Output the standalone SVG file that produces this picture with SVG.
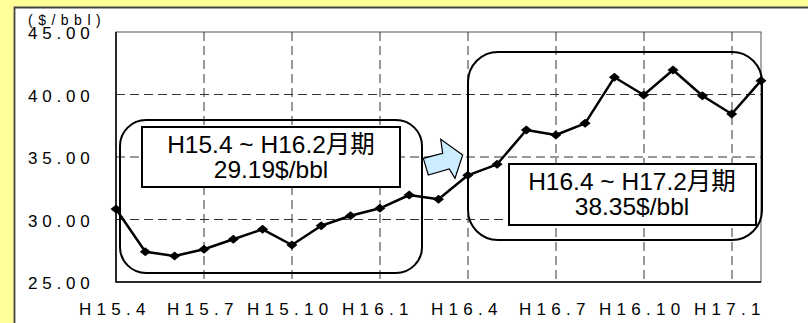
<svg xmlns="http://www.w3.org/2000/svg" width="808" height="323" viewBox="0 0 808 323">
  <defs>
    <style>
      .grid { stroke: #333; stroke-width: 1; stroke-dasharray: 9 5; fill: none; }
      .axis { font-family: "Liberation Sans", Arial, sans-serif; font-size: 17px; fill: #000; }
      .ylab { letter-spacing: 4.8px; }
      .xlab { letter-spacing: 5.3px; }
      .round { fill: none; stroke: #000; stroke-width: 2; }
      .box { fill: #fff; stroke: #000; stroke-width: 2; }
      .boxtxt { font-family: "Liberation Sans", "Noto Sans CJK JP", Arial, sans-serif; font-size: 24.5px; fill: #000; text-anchor: middle; }
      .series { fill: none; stroke: #000; stroke-width: 2.5; stroke-linejoin: round; }
    </style>
    <marker id="dia" viewBox="-6 -5 12 10" markerWidth="12" markerHeight="10" markerUnits="userSpaceOnUse" refX="0" refY="0" overflow="visible">
      <path d="M-5.5,0 L0,-4.5 L5.5,0 L0,4.5 Z" fill="#000"/>
    </marker>
  </defs>

  <!-- background -->
  <rect x="0" y="0" width="808" height="323" fill="#FFFF99"/>
  <rect x="14" y="7" width="794" height="316" fill="#fff"/>
  <path d="M14.5,323 L14.5,7.5 L808,7.5" fill="none" stroke="#444" stroke-width="1.8"/>

  <g id="plot-area">
    <rect x="116" y="32" width="645" height="250" fill="#fff" stroke="#555" stroke-width="1"/>
    <g id="gridlines">
      <line class="grid" x1="116" y1="94.5" x2="761" y2="94.5"/>
      <line class="grid" x1="116" y1="157" x2="761" y2="157"/>
      <line class="grid" x1="116" y1="219.5" x2="761" y2="219.5"/>
      <line class="grid" x1="204" y1="32" x2="204" y2="282"/>
      <line class="grid" x1="292" y1="32" x2="292" y2="282"/>
      <line class="grid" x1="380" y1="32" x2="380" y2="282"/>
      <line class="grid" x1="468" y1="32" x2="468" y2="282"/>
      <line class="grid" x1="556" y1="32" x2="556" y2="282"/>
      <line class="grid" x1="644" y1="32" x2="644" y2="282"/>
      <line class="grid" x1="732" y1="32" x2="732" y2="282"/>
    </g>
    <path d="M116,32 L116,282 L761,282" fill="none" stroke="#000" stroke-width="1.5"/>
  </g>

  <g id="y-axis-labels" class="axis ylab">
    <text x="28" y="25" font-size="14px" style="letter-spacing:5.5px">($/bbl)</text>
    <text x="28" y="38.5">45.00</text>
    <text x="28" y="101.5">40.00</text>
    <text x="28" y="164">35.00</text>
    <text x="28" y="226.5">30.00</text>
    <text x="28" y="289">25.00</text>
  </g>

  <g id="x-axis-labels" class="axis xlab">
    <text x="79" y="315">H15.4</text>
    <text x="167" y="315">H15.7</text>
    <text x="247" y="315">H15.10</text>
    <text x="342" y="315">H16.1</text>
    <text x="431" y="315">H16.4</text>
    <text x="519" y="315">H16.7</text>
    <text x="599" y="315">H16.10</text>
    <text x="694" y="315">H17.1</text>
  </g>

  <g id="period1-frame">
    <rect class="round" x="120" y="120" width="302" height="153" rx="26" ry="26"/>
  </g>
  <g id="period2-frame">
    <rect class="round" x="468" y="52" width="294" height="188" rx="30" ry="30"/>
  </g>

  <g id="period1-label">
    <rect class="box" x="142" y="127" width="258" height="60"/>
    <text class="boxtxt" x="271" y="153">H15.4 ~ H16.2月期</text>
    <text class="boxtxt" x="271" y="178">29.19$/bbl</text>
  </g>

  <g id="period2-label">
    <rect class="box" x="509" y="164" width="247" height="61"/>
    <text class="boxtxt" x="632" y="190">H16.4 ~ H17.2月期</text>
    <text class="boxtxt" x="632" y="215">38.35$/bbl</text>
  </g>

  <g id="arrow">
    <polygon points="428.3,175 423.3,158.3 442.7,153.3 440.7,139.3 462.7,155 455,178.3 449.3,169" fill="#CCECFF" stroke="#000" stroke-width="1.2" stroke-linejoin="miter"/>
  </g>

  <g id="connectors">
    <polyline class="series" marker-start="url(#dia)" marker-mid="url(#dia)" marker-end="url(#dia)"
      points="116,209 145.3,251.7 174.6,256 204,249.3 233.3,239.3 262.6,229.3 291.9,245 321.2,225.7 350.5,215.7 379.9,208.3 409.2,195 438.5,199.3 467.8,175.3 497.1,164.3 526.4,130 555.8,135 585.1,123.3 614.4,77.3 643.7,95 673,70 702.4,95.7 731.7,114 761,80.7"/>
  </g>
</svg>
